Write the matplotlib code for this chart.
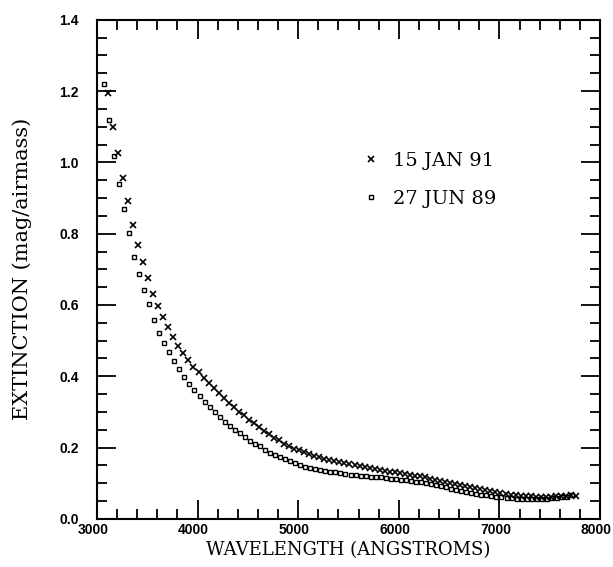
import matplotlib
matplotlib.use('Agg')
import matplotlib.pyplot as plt
import matplotlib.transforms as mtransforms
from matplotlib.ticker import MultipleLocator

# --- dados ---
# 15 JAN 91 (cruzes)
onda_jan91 = [3110, 3160, 3210, 3260, 3310, 3360, 3410, 3460, 3510, 3560,
              3610, 3660, 3710, 3760, 3810, 3860, 3910, 3960, 4010, 4060,
              4110, 4160, 4210, 4260, 4310, 4360, 4410, 4460, 4510, 4560,
              4610, 4660, 4710, 4760, 4810, 4860, 4910, 4960, 5010, 5060,
              5110, 5160, 5210, 5260, 5310, 5360, 5410, 5460, 5510, 5560,
              5610, 5660, 5710, 5760, 5810, 5860, 5910, 5960, 6010, 6060,
              6110, 6160, 6210, 6260, 6310, 6360, 6410, 6460, 6510, 6560,
              6610, 6660, 6710, 6760, 6810, 6860, 6910, 6960, 7010, 7060,
              7110, 7160, 7210, 7260, 7310, 7360, 7410, 7460, 7510, 7560,
              7610, 7660, 7710, 7760]
ext_jan91 = [1.195, 1.100, 1.026, 0.956, 0.891, 0.825, 0.769, 0.720, 0.677, 0.632,
             0.596, 0.565, 0.537, 0.511, 0.486, 0.464, 0.446, 0.427, 0.411, 0.394,
             0.380, 0.366, 0.352, 0.338, 0.325, 0.313, 0.301, 0.290, 0.278, 0.268,
             0.258, 0.247, 0.238, 0.228, 0.220, 0.211, 0.204, 0.197, 0.192, 0.187,
             0.182, 0.177, 0.173, 0.169, 0.166, 0.163, 0.159, 0.156, 0.153, 0.150,
             0.147, 0.144, 0.142, 0.139, 0.136, 0.134, 0.132, 0.130, 0.128, 0.126,
             0.124, 0.121, 0.119, 0.116, 0.113, 0.110, 0.107, 0.104, 0.101, 0.098,
             0.095, 0.092, 0.089, 0.086, 0.083, 0.080, 0.077, 0.075, 0.072, 0.070,
             0.068, 0.066, 0.065, 0.064, 0.063, 0.062, 0.062, 0.062, 0.062, 0.063,
             0.064, 0.065, 0.066, 0.064]

# 27 JUN 89 (quadrados)
onda_jun89 = [3070, 3120, 3170, 3220, 3270, 3320, 3370, 3420, 3470, 3520,
              3570, 3620, 3670, 3720, 3770, 3820, 3870, 3920, 3970, 4020,
              4070, 4120, 4170, 4220, 4270, 4320, 4370, 4420, 4470, 4520,
              4570, 4620, 4670, 4720, 4770, 4820, 4870, 4920, 4970, 5020,
              5070, 5120, 5170, 5220, 5270, 5320, 5370, 5420, 5470, 5520,
              5570, 5620, 5670, 5720, 5770, 5820, 5870, 5920, 5970, 6020,
              6070, 6120, 6170, 6220, 6270, 6320, 6370, 6420, 6470, 6520,
              6570, 6620, 6670, 6720, 6770, 6820, 6870, 6920, 6970, 7020,
              7070, 7120, 7170, 7220, 7270, 7320, 7370, 7420, 7470, 7520,
              7570, 7620, 7670, 7720]
ext_jun89 = [1.220, 1.118, 1.018, 0.940, 0.868, 0.803, 0.735, 0.687, 0.643, 0.602,
             0.557, 0.522, 0.493, 0.468, 0.442, 0.421, 0.398, 0.377, 0.361, 0.344,
             0.328, 0.313, 0.299, 0.286, 0.273, 0.261, 0.250, 0.240, 0.230, 0.219,
             0.210, 0.203, 0.194, 0.186, 0.180, 0.174, 0.167, 0.161, 0.156, 0.151,
             0.146, 0.142, 0.139, 0.136, 0.134, 0.132, 0.130, 0.128, 0.126, 0.124,
             0.123, 0.121, 0.120, 0.118, 0.117, 0.116, 0.114, 0.113, 0.111, 0.110,
             0.108, 0.106, 0.104, 0.102, 0.100, 0.097, 0.094, 0.091, 0.088, 0.085,
             0.082, 0.079, 0.076, 0.073, 0.070, 0.068, 0.066, 0.064, 0.062, 0.060,
             0.058, 0.057, 0.056, 0.056, 0.055, 0.055, 0.055, 0.056, 0.056, 0.057,
             0.058, 0.060, 0.061, 0.066]

rotulos = ['15 JAN 91', '27 JUN 89']

fig = plt.figure(figsize=(6.13, 5.67), dpi=100)
ax = fig.add_axes([0.158, 0.085, 0.821, 0.880])

ax.plot(onda_jan91, ext_jan91, linestyle='none', marker='x', color='black',
        markersize=3.8, markeredgewidth=1.2, label=rotulos[0])
ax.plot(onda_jun89, ext_jun89, linestyle='none', marker='s', color='black',
        markerfacecolor='none', markersize=3.5, markeredgewidth=1.0, label=rotulos[1])

ax.set_xlim(3000, 8000)
ax.set_ylim(0, 1.4)
ax.xaxis.set_major_locator(MultipleLocator(1000))
ax.xaxis.set_minor_locator(MultipleLocator(200))
ax.yaxis.set_major_locator(MultipleLocator(0.2))
ax.yaxis.set_minor_locator(MultipleLocator(0.05))
ax.yaxis.set_major_formatter(plt.FormatStrFormatter('%.1f'))

ax.tick_params(which='both', direction='in', top=True, right=True, width=1.3)
ax.tick_params(which='major', length=14)
ax.tick_params(which='minor', length=7)
ax.tick_params(axis='x', which='major', pad=3)
ax.tick_params(axis='y', which='major', pad=13)

# rotulos dos ticks do eixo x um pouco para a esquerda, como no original
desloca = mtransforms.ScaledTranslation(-4 / 100, 0, fig.dpi_scale_trans)
for lbl in ax.get_xticklabels():
    lbl.set_transform(lbl.get_transform() + desloca)
for lbl in ax.get_xticklabels() + ax.get_yticklabels():
    lbl.set_fontweight('bold')
    lbl.set_fontsize(10)
    lbl.set_family('Liberation Sans')
for sp in ax.spines.values():
    sp.set_linewidth(1.5)

ax.set_xlabel('WAVELENGTH (ANGSTROMS)', family='DejaVu Serif', fontsize=13, labelpad=3)
ax.set_ylabel('EXTINCTION (mag/airmass)', family='DejaVu Serif', fontsize=15, labelpad=20)

ax.legend(loc='upper left', bbox_to_anchor=(0.495, 0.77), frameon=False,
          prop={'family': 'DejaVu Serif', 'size': 14}, handlelength=0.8,
          handletextpad=0.7, labelspacing=1.0, markerscale=1.0)

fig.savefig('out.png', dpi=100)
